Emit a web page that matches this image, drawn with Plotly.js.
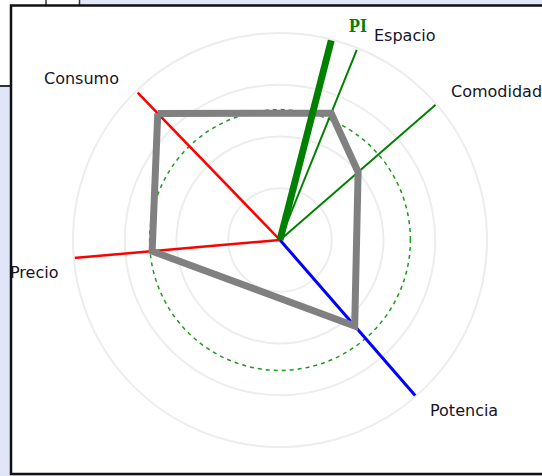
<!DOCTYPE html>
<html>
<head>
<meta charset="utf-8">
<script src="https://cdn.plot.ly/plotly-3.0.1.min.js"></script>
<style>
  html, body { margin: 0; padding: 0; background: #e0e5f7; }
  #chart { width: 542px; height: 476px; }
</style>
</head>
<body>
<div id="chart"></div>
<script>
// ---------- data ----------
const axisNames   = ['Consumo', 'Espacio', 'Comodidad', 'Potencia', 'Precio'];
const axisAngles  = [134, 68, 41, 311, 185];        // degrees, counterclockwise from east
const axisLengths = [99, 99, 100, 100, 100];
const axisColors  = ['#ff0000', '#008000', '#008000', '#0000ff', '#ff0000'];
const profile     = [85, 66, 50, 55, 62];           // gray polygon, same order as axisNames
const piAngle     = 75.6;
const piLength    = 100;
const refLevel    = 63;                             // dashed green circle
const rings       = [25, 50, 75];

// ---------- helpers ----------
const W = 542, H = 476;
const px = x => x / W;
const py = y => 1 - y / H;

// ---------- traces ----------
const traces = [];

// dummy trace so the lower polar subplot (dashed level) is drawn
traces.push({
  type: 'scatterpolar', subplot: 'polar', r: [0], theta: [0], mode: 'markers',
  marker: { size: 0.1, color: 'rgba(0,0,0,0)' }, hoverinfo: 'skip', showlegend: false
});

axisNames.forEach((name, i) => {
  traces.push({
    type: 'scatterpolar',
    subplot: 'polar2',
    r: [0, axisLengths[i]],
    theta: [axisAngles[i], axisAngles[i]],
    mode: 'lines',
    line: { color: axisColors[i], width: name === 'Potencia' ? 3 : (axisColors[i] === '#ff0000' ? 2.5 : 2) },
    hoverinfo: 'skip',
    showlegend: false
  });
});

// closed profile polygon
traces.push({
  type: 'scatterpolar',
  subplot: 'polar2',
  r: profile.concat(profile[0]),
  theta: axisAngles.concat(axisAngles[0]),
  mode: 'lines',
  line: { color: '#808080', width: 7 },
  hoverinfo: 'skip',
  showlegend: false
});

// PI needle
traces.push({
  type: 'scatterpolar',
  subplot: 'polar2',
  r: [0, piLength],
  theta: [piAngle, piAngle],
  mode: 'lines',
  line: { color: '#008000', width: 7 },
  hoverinfo: 'skip',
  showlegend: false
});

// ---------- layout ----------
const domain = { x: [px(73), px(487)], y: [py(447), py(33)] };
const hiddenAngular = { showgrid: false, showticklabels: false, ticks: '', showline: false,
                        rotation: 0, direction: 'counterclockwise' };

const labelFont = { family: 'DejaVu Sans', size: 16, color: '#141428' };
const labels = [
  { text: 'Consumo',   x: 81,  y: 79 },
  { text: 'Espacio',   x: 404, y: 36 },
  { text: 'Comodidad', x: 496, y: 91 },
  { text: 'Potencia',  x: 464, y: 410 },
  { text: 'Precio',    x: 34,  y: 272 }
];

const annotations = labels.map(l => ({
  text: l.text, x: px(l.x), y: py(l.y), xref: 'paper', yref: 'paper',
  showarrow: false, font: labelFont, xanchor: 'center', yanchor: 'middle'
}));
annotations.push({
  text: '<b>PI</b>', x: px(358), y: py(26), xref: 'paper', yref: 'paper',
  showarrow: false, xanchor: 'center', yanchor: 'middle',
  font: { family: 'Liberation Serif', size: 18, color: '#008000' }
});

const shapes = [
  // white panel
  { type: 'rect', xref: 'paper', yref: 'paper', layer: 'below',
    x0: px(11), x1: px(560), y0: py(474), y1: py(5),
    fillcolor: '#ffffff', line: { width: 0 } },
  // white strips at top-left (window behind)
  { type: 'rect', xref: 'paper', yref: 'paper', layer: 'below',
    x0: 0, x1: px(11), y0: py(86), y1: 1, fillcolor: '#ffffff', line: { width: 0 } },
  { type: 'rect', xref: 'paper', yref: 'paper', layer: 'below',
    x0: 0, x1: px(80), y0: py(5), y1: 1, fillcolor: '#ffffff', line: { width: 0 } },
  { type: 'line', xref: 'paper', yref: 'paper', layer: 'below',
    x0: 0, x1: px(11), y0: py(86), y1: py(86), line: { color: '#333', width: 2 } },
  { type: 'line', xref: 'paper', yref: 'paper', layer: 'below',
    x0: px(46), x1: px(46), y0: py(5), y1: 1, line: { color: '#333', width: 1.5 } },
  { type: 'line', xref: 'paper', yref: 'paper', layer: 'below',
    x0: px(79.5), x1: px(79.5), y0: py(5), y1: 1, line: { color: '#333', width: 1.5 } },
  // panel border
  { type: 'rect', xref: 'paper', yref: 'paper', layer: 'above',
    x0: px(11), x1: px(560), y0: py(474), y1: py(5.5),
    fillcolor: 'rgba(0,0,0,0)', line: { color: '#111', width: 2.5 } }
];

const layout = {
  width: W, height: H,
  margin: { l: 0, r: 0, t: 0, b: 0 },
  paper_bgcolor: '#e0e5f7',
  showlegend: false,
  polar: {
    domain: domain,
    bgcolor: 'rgba(0,0,0,0)',
    radialaxis: { range: [0, 100], tickvals: [refLevel], showline: false, showticklabels: false,
                  ticks: '', gridcolor: '#1f9a1f', griddash: '4px,4px', gridwidth: 1.5 },
    angularaxis: hiddenAngular
  },
  polar2: {
    domain: domain,
    bgcolor: 'rgba(0,0,0,0)',
    radialaxis: { range: [0, 100], tickvals: rings, showline: false, showticklabels: false,
                  ticks: '', gridcolor: '#ededed', gridwidth: 2 },
    angularaxis: { showgrid: false, showticklabels: false, ticks: '', showline: true,
                   linecolor: '#ededed', linewidth: 2, rotation: 0, direction: 'counterclockwise' }
  },
  annotations: annotations,
  shapes: shapes
};

Plotly.newPlot('chart', traces, layout, { displayModeBar: false, staticPlot: true });
</script>
</body>
</html>
